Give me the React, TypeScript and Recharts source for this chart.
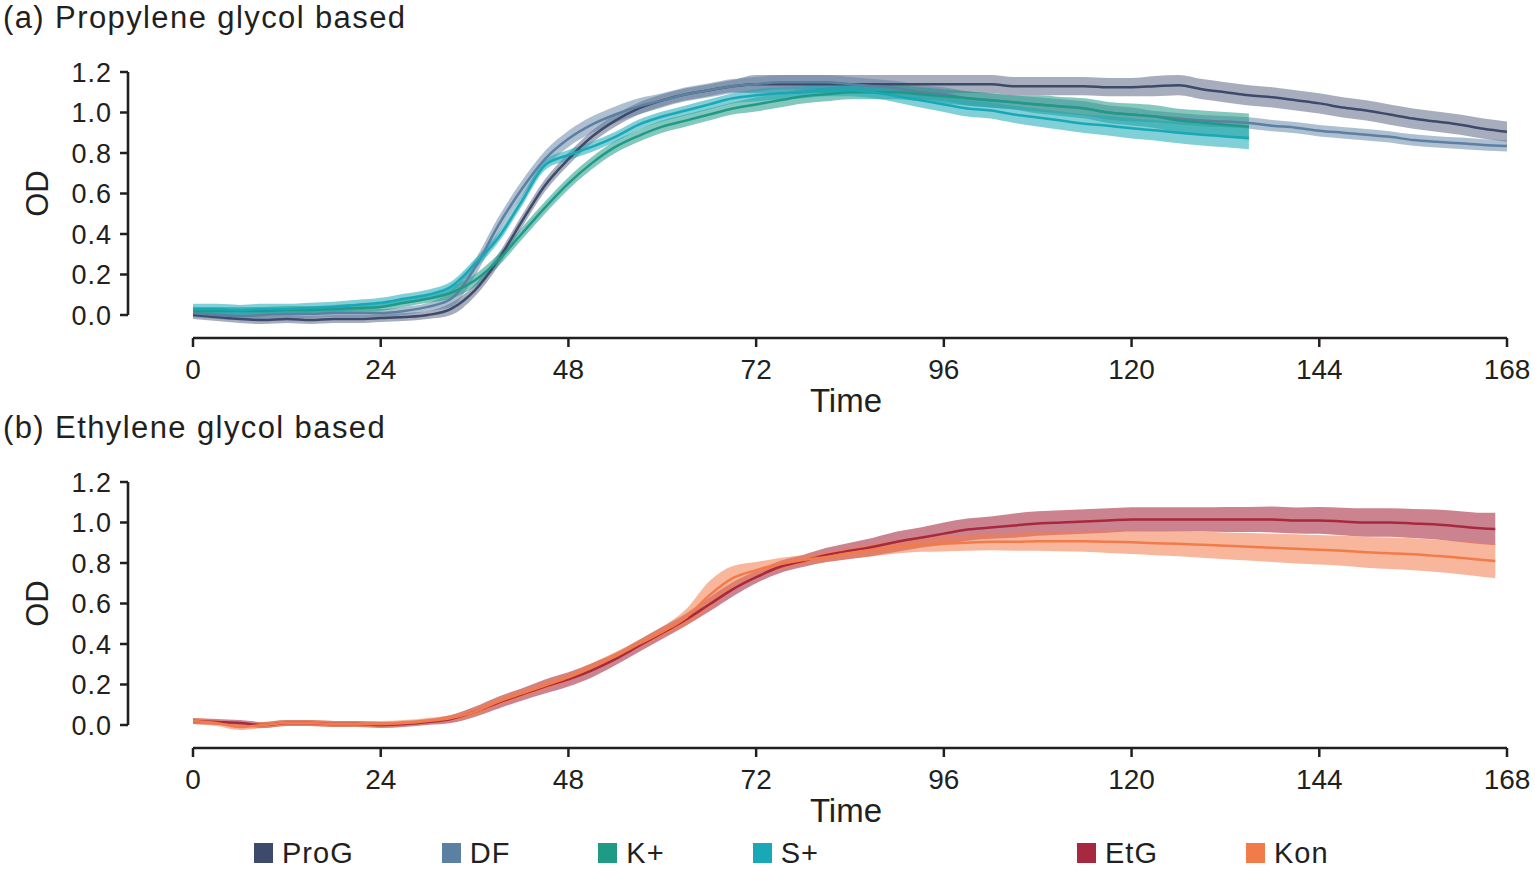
import React from 'react';
import { ComposedChart, Area, Line, XAxis, YAxis, ReferenceLine } from 'recharts';

// ---------- data ----------
const TIME_A = [0,3,6,9,12,15,18,21,24,27,30,33,36,39,42,45,48,51,54,57,60,63,66,69,72,75,78,81,84,87,90,93,96,99,102,105,108,111,114,117,120,123,126,129,132,135,138,141,144,147,150,153,156,159,162,165,168];
const TIME_B = [0,3,6,9,12,15,18,21,24,27,30,33,36,39,42,45,48,51,54,57,60,63,66,69,72,75,78,81,84,87,90,93,96,99,102,105,108,111,114,117,120,123,126,129,132,135,138,141,144,147,150,153,156,159,162,165,166.5];

const PROG_MEAN = [0.0,-0.01,-0.02,-0.025,-0.02,-0.025,-0.02,-0.02,-0.015,-0.01,0.0,0.03,0.12,0.27,0.46,0.64,0.77,0.88,0.96,1.02,1.06,1.09,1.11,1.13,1.14,1.14,1.14,1.14,1.14,1.14,1.14,1.14,1.14,1.14,1.14,1.13,1.13,1.13,1.13,1.125,1.125,1.13,1.135,1.115,1.10,1.085,1.075,1.06,1.045,1.025,1.01,0.99,0.97,0.955,0.94,0.92,0.905];
const PROG_SD = [0.02,0.02,0.02,0.02,0.02,0.02,0.02,0.02,0.02,0.02,0.02,0.03,0.03,0.03,0.03,0.03,0.03,0.03,0.03,0.03,0.03,0.03,0.03,0.03,0.045,0.045,0.045,0.045,0.045,0.045,0.045,0.045,0.045,0.045,0.045,0.045,0.045,0.045,0.045,0.045,0.045,0.05,0.05,0.05,0.05,0.05,0.05,0.05,0.05,0.05,0.05,0.05,0.05,0.05,0.05,0.05,0.05];

const DF_MEAN = [0.01,0.0,-0.005,0.0,0.005,0.005,0.01,0.01,0.01,0.02,0.04,0.08,0.23,0.44,0.62,0.77,0.87,0.94,0.99,1.03,1.06,1.09,1.11,1.13,1.14,1.15,1.15,1.15,1.14,1.13,1.12,1.10,1.09,1.07,1.06,1.05,1.04,1.03,1.02,1.0,0.99,0.98,0.97,0.96,0.955,0.948,0.935,0.925,0.91,0.90,0.89,0.88,0.864,0.855,0.848,0.84,0.835];
const DF_SD = [0.02,0.02,0.02,0.02,0.02,0.02,0.02,0.02,0.02,0.02,0.02,0.04,0.04,0.04,0.04,0.04,0.04,0.04,0.04,0.04,0.035,0.035,0.035,0.035,0.035,0.035,0.035,0.035,0.035,0.035,0.035,0.035,0.035,0.035,0.035,0.035,0.035,0.035,0.035,0.035,0.035,0.028,0.028,0.028,0.028,0.028,0.028,0.028,0.028,0.028,0.028,0.028,0.028,0.028,0.028,0.028,0.028];

const KP_MEAN = [0.02,0.02,0.02,0.02,0.025,0.025,0.03,0.035,0.04,0.06,0.08,0.11,0.17,0.27,0.40,0.53,0.65,0.75,0.83,0.885,0.93,0.96,0.99,1.02,1.04,1.06,1.08,1.09,1.10,1.10,1.10,1.09,1.08,1.07,1.06,1.05,1.04,1.03,1.02,1.0,0.99,0.98,0.96,0.95,0.94,0.93,null,null,null,null,null,null,null,null,null,null,null];
const KP_SD = [0.02,0.02,0.02,0.02,0.02,0.02,0.02,0.02,0.02,0.02,0.02,0.03,0.03,0.03,0.03,0.03,0.03,0.03,0.03,0.03,0.03,0.03,0.03,0.03,0.035,0.035,0.035,0.035,0.035,0.035,0.035,0.035,0.035,0.035,0.035,0.035,0.045,0.047,0.05,0.052,0.054,0.056,0.058,0.06,0.062,0.065,null,null,null,null,null,null,null,null,null,null,null];

const SP_MEAN = [0.03,0.03,0.025,0.03,0.03,0.035,0.04,0.05,0.06,0.08,0.10,0.14,0.25,0.38,0.56,0.74,0.79,0.83,0.88,0.94,0.98,1.01,1.04,1.07,1.085,1.095,1.10,1.11,1.11,1.10,1.08,1.06,1.04,1.02,1.01,0.99,0.975,0.96,0.945,0.935,0.922,0.912,0.90,0.89,0.882,0.874,null,null,null,null,null,null,null,null,null,null,null];
const SP_SD = [0.025,0.025,0.025,0.025,0.025,0.025,0.025,0.025,0.025,0.025,0.025,0.025,0.025,0.025,0.025,0.025,0.025,0.025,0.025,0.025,0.025,0.025,0.025,0.025,0.03,0.03,0.03,0.03,0.03,0.03,0.03,0.035,0.037,0.04,0.04,0.042,0.044,0.045,0.046,0.048,0.05,0.05,0.052,0.053,0.054,0.055,null,null,null,null,null,null,null,null,null,null,null];

const ETG_MEAN = [0.02,0.015,0.01,0.0,0.01,0.01,0.005,0.005,0.0,0.005,0.015,0.03,0.065,0.11,0.15,0.19,0.225,0.27,0.325,0.39,0.455,0.52,0.595,0.67,0.73,0.78,0.81,0.84,0.86,0.88,0.905,0.925,0.945,0.965,0.975,0.985,0.995,1.0,1.005,1.01,1.015,1.015,1.015,1.015,1.015,1.015,1.015,1.01,1.01,1.005,1.0,1.0,0.995,0.99,0.98,0.97,0.968];
const ETG_SD = [0.015,0.015,0.015,0.015,0.015,0.015,0.015,0.015,0.015,0.015,0.015,0.02,0.025,0.03,0.03,0.035,0.035,0.035,0.03,0.03,0.03,0.03,0.035,0.035,0.03,0.03,0.03,0.035,0.04,0.045,0.05,0.05,0.055,0.055,0.055,0.06,0.06,0.06,0.06,0.06,0.06,0.06,0.06,0.06,0.062,0.062,0.064,0.064,0.066,0.068,0.07,0.07,0.072,0.074,0.076,0.078,0.08];

const KON_MEAN = [0.02,0.01,-0.01,0.0,0.01,0.01,0.005,0.005,0.005,0.01,0.02,0.035,0.065,0.115,0.155,0.195,0.235,0.285,0.34,0.40,0.46,0.53,0.64,0.725,0.765,0.795,0.815,0.83,0.85,0.865,0.88,0.89,0.895,0.90,0.905,0.905,0.908,0.908,0.907,0.905,0.902,0.898,0.895,0.89,0.885,0.88,0.875,0.87,0.865,0.86,0.853,0.848,0.843,0.835,0.826,0.815,0.81];
const KON_SD = [0.015,0.015,0.015,0.015,0.015,0.015,0.015,0.015,0.015,0.015,0.015,0.015,0.02,0.02,0.02,0.02,0.02,0.02,0.02,0.02,0.025,0.04,0.07,0.06,0.04,0.03,0.025,0.025,0.028,0.03,0.033,0.035,0.038,0.04,0.042,0.045,0.048,0.05,0.052,0.055,0.058,0.06,0.062,0.064,0.066,0.068,0.07,0.072,0.073,0.074,0.076,0.078,0.079,0.08,0.082,0.084,0.085];

const X_TICKS = [0, 24, 48, 72, 96, 120, 144, 168];
const Y_TICKS = [0, 0.2, 0.4, 0.6, 0.8, 1.0, 1.2];

const SERIES_A = [
  { key: 'prog', name: 'ProG', mean: PROG_MEAN, sd: PROG_SD },
  { key: 'df', name: 'DF', mean: DF_MEAN, sd: DF_SD },
  { key: 'kp', name: 'K+', mean: KP_MEAN, sd: KP_SD },
  { key: 'sp', name: 'S+', mean: SP_MEAN, sd: SP_SD },
];
const SERIES_B = [
  { key: 'etg', name: 'EtG', mean: ETG_MEAN, sd: ETG_SD },
  { key: 'kon', name: 'Kon', mean: KON_MEAN, sd: KON_SD },
];

// ---------- styles ----------
const STYLE: Record<string, { color: string; bandOpacity: number }> = {
  prog: { color: '#3d4a6c', bandOpacity: 0.45 },
  df: { color: '#5c80a2', bandOpacity: 0.5 },
  kp: { color: '#1f9a87', bandOpacity: 0.55 },
  sp: { color: '#19a8b7', bandOpacity: 0.55 },
  etg: { color: '#a7293f', bandOpacity: 0.58 },
  kon: { color: '#f27b4a', bandOpacity: 0.55 },
};

// ---------- layout ----------
const FONT = '"Liberation Sans", Arial, Helvetica, sans-serif';
const INK = '#231f20';
const CHART_W = 1535;
const CHART_H = 420;
const PLOT_LEFT = 128;
const PLOT_RIGHT = 1507;
const ZERO_X = 193; // pixel of t = 0
const Y_TOP = 72; // pixel of OD 1.2
const Y_ZERO = 315; // pixel of OD 0
const PLOT_BOTTOM = 338;
const X_MAX = 168;
const Y_MAX = 1.2;
const X_MIN = -((ZERO_X - PLOT_LEFT) / (PLOT_RIGHT - ZERO_X)) * X_MAX;
const Y_MIN = -((PLOT_BOTTOM - Y_ZERO) / (Y_ZERO - Y_TOP)) * Y_MAX;

type Series = { key: string; name: string; mean: (number | null)[]; sd: (number | null)[] };

function buildRows(time: number[], series: Series[]) {
  return time.map((t, i) => {
    const row: Record<string, any> = { t };
    series.forEach((s) => {
      const m = s.mean[i];
      const d = s.sd[i];
      row[s.key] = m;
      row[s.key + 'Band'] = m == null || d == null ? null : [m - d, m + d];
    });
    return row;
  });
}

const ROWS_A = buildRows(TIME_A, SERIES_A);
const ROWS_B = buildRows(TIME_B, SERIES_B);

const TimeLabel = () => (
  <text x={846} y={412} textAnchor="middle" fontSize={33} fontFamily={FONT} fill={INK}>
    Time
  </text>
);

const OdLabel = () => (
  <text
    x={48}
    y={(Y_TOP + Y_ZERO) / 2}
    transform={`rotate(-90, 48, ${(Y_TOP + Y_ZERO) / 2})`}
    textAnchor="middle"
    fontSize={31}
    fontFamily={FONT}
    fill={INK}
  >
    OD
  </text>
);

function Panel({ rows, series, top, title }: { rows: any[]; series: Series[]; top: number; title: string }) {
  return (
    <div style={{ position: 'absolute', left: 0, top, width: CHART_W, height: CHART_H }}>
      <ComposedChart
        width={CHART_W}
        height={CHART_H}
        data={rows}
        margin={{ top: Y_TOP, right: CHART_W - PLOT_RIGHT, bottom: CHART_H - PLOT_BOTTOM - 60, left: PLOT_LEFT - 60 }}
      >
        <XAxis
          type="number"
          dataKey="t"
          domain={[X_MIN, X_MAX]}
          allowDataOverflow
          ticks={X_TICKS}
          interval={0}
          height={60}
          axisLine={false}
          tickLine={{ stroke: INK, strokeWidth: 2.5 }}
          tickSize={9}
          tickMargin={12}
          tick={{ fontSize: 28, fill: INK, fontFamily: FONT }}
          label={TimeLabel}
        />
        <YAxis
          type="number"
          domain={[Y_MIN, Y_MAX]}
          allowDataOverflow
          ticks={Y_TICKS}
          interval={0}
          width={60}
          axisLine={false}
          tickLine={{ stroke: INK, strokeWidth: 2.5 }}
          tickSize={8}
          tickMargin={8}
          tickFormatter={(v: number) => v.toFixed(1)}
          tick={{ fontSize: 27, fill: INK, fontFamily: FONT, letterSpacing: 1 }}
          label={OdLabel}
        />
        {series.map((s) => (
          <Area
            key={s.key + 'Band'}
            type="monotone"
            dataKey={s.key + 'Band'}
            stroke="none"
            fill={STYLE[s.key].color}
            fillOpacity={STYLE[s.key].bandOpacity}
            isAnimationActive={false}
            activeDot={false}
            dot={false}
          />
        ))}
        {series.map((s) => (
          <Line
            key={s.key}
            type="monotone"
            dataKey={s.key}
            stroke={STYLE[s.key].color}
            strokeWidth={2.5}
            dot={false}
            activeDot={false}
            isAnimationActive={false}
          />
        ))}
        <ReferenceLine
          segment={[{ x: X_MIN, y: 0 }, { x: X_MIN, y: Y_MAX }]}
          stroke={INK}
          strokeWidth={2.6}
          ifOverflow="visible"
        />
        <ReferenceLine
          segment={[{ x: 0, y: Y_MIN }, { x: X_MAX, y: Y_MIN }]}
          stroke={INK}
          strokeWidth={2.6}
          ifOverflow="visible"
        />
      </ComposedChart>
      <div
        style={{
          position: 'absolute',
          left: 3,
          top: 2,
          fontSize: 31,
          lineHeight: '31px',
          fontFamily: FONT,
          color: INK,
          letterSpacing: 1.4,
          whiteSpace: 'nowrap',
        }}
      >
        {title}
      </div>
    </div>
  );
}

function LegendGroup({ series, left }: { series: Series[]; left: number }) {
  return (
    <div style={{ position: 'absolute', left, top: 839, height: 28, display: 'flex', alignItems: 'center' }}>
      {series.map((s) => (
        <div key={s.key} style={{ display: 'flex', alignItems: 'center', marginRight: 88 }}>
          <div style={{ width: 19, height: 20, background: STYLE[s.key].color, marginRight: 9 }} />
          <span style={{ fontSize: 29, lineHeight: '28px', fontFamily: FONT, color: INK, letterSpacing: 1 }}>{s.name}</span>
        </div>
      ))}
    </div>
  );
}

export default function App() {
  return (
    <div style={{ position: 'absolute', left: 0, top: 0, width: 1535, height: 870, background: '#fff', overflow: 'hidden' }}>
      <Panel rows={ROWS_A} series={SERIES_A} top={0} title="(a) Propylene glycol based" />
      <Panel rows={ROWS_B} series={SERIES_B} top={410} title="(b) Ethylene glycol based" />
      <LegendGroup series={SERIES_A} left={254} />
      <LegendGroup series={SERIES_B} left={1077} />
    </div>
  );
}
